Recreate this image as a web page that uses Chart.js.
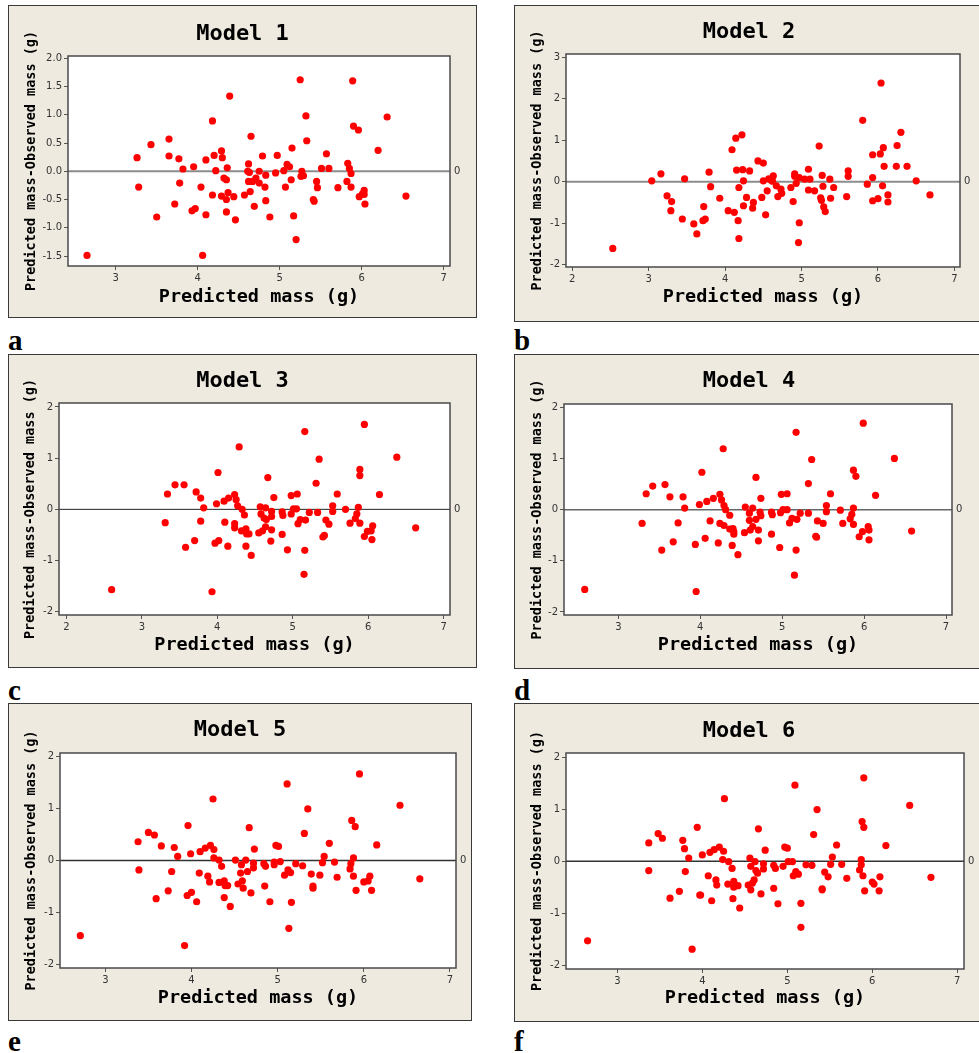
<!DOCTYPE html>
<html>
<head>
<meta charset="utf-8">
<script src="https://cdn.jsdelivr.net/npm/chart.js@4/dist/chart.umd.min.js"></script>
<style>
  html, body { margin: 0; padding: 0; background: #ffffff; }
  body { width: 979px; height: 1053px; position: relative; overflow: hidden; }
  .panel { position: absolute; box-sizing: border-box; border: 1px solid #3a3a3a; background: #eeeae0; }
  .panel canvas { display: block; }
  .tag { position: absolute; font-family: "Liberation Serif", "Times New Roman", serif; font-weight: bold; font-size: 29px; line-height: 1; color: #000; }
</style>
</head>
<body>
<script>
// Residuals (predicted − observed) against predicted mass, one pair of arrays per model.
const MODEL1_X = [2.65,3.26,3.28,3.43,3.50,3.65,3.65,3.72,3.77,3.78,3.82,3.93,3.95,3.97,4.04,4.06,4.10,4.10,4.18,4.18,4.20,4.22,4.29,4.30,4.29,4.32,4.35,4.35,4.35,4.36,4.37,4.39,4.44,4.46,4.57,4.62,4.61,4.63,4.62,4.64,4.65,4.67,4.69,4.71,4.75,4.75,4.79,4.82,4.83,4.83,4.88,4.95,4.97,5.05,5.07,5.09,5.12,5.14,5.15,5.17,5.20,5.25,5.26,5.27,5.29,5.32,5.33,5.41,5.42,5.45,5.46,5.51,5.57,5.60,5.71,5.82,5.83,5.85,5.87,5.87,5.89,5.90,5.96,5.97,6.01,6.03,6.03,6.04,6.20,6.31,6.54];
const MODEL1_Y = [-1.49,0.24,-0.28,0.47,-0.81,0.57,0.27,-0.58,0.22,-0.21,0.04,-0.70,0.08,-0.66,-0.28,-1.49,-0.77,0.20,-0.42,0.89,0.28,0.01,0.36,0.24,-0.44,-0.12,-0.15,-0.50,-0.72,0.06,-0.38,1.33,-0.45,-0.86,-0.42,0.13,0.00,-0.02,-0.18,-0.36,0.62,-0.18,-0.62,-0.12,-0.21,0.00,0.27,-0.28,-0.07,-0.52,-0.81,-0.03,0.28,0.01,-0.28,0.12,0.08,-0.15,0.41,-0.79,-1.21,1.62,-0.09,0.00,-0.08,0.98,0.54,-0.50,-0.53,-0.18,-0.29,0.05,0.31,0.05,-0.29,-0.18,0.14,0.05,-0.04,-0.28,1.60,0.80,0.73,-0.45,-0.40,-0.34,-0.41,-0.58,0.37,0.96,-0.44];

const MODEL2_X = [2.53,3.04,3.16,3.24,3.30,3.29,3.44,3.47,3.59,3.63,3.72,3.71,3.74,3.79,3.81,3.93,4.04,4.09,4.12,4.14,4.15,4.18,4.17,4.18,4.22,4.23,4.24,4.24,4.28,4.32,4.36,4.37,4.43,4.48,4.50,4.50,4.53,4.55,4.57,4.60,4.62,4.63,4.67,4.69,4.73,4.74,4.86,4.89,4.91,4.91,4.93,4.97,4.96,4.97,5.04,5.09,5.09,5.11,5.17,5.23,5.25,5.26,5.27,5.28,5.29,5.31,5.37,5.38,5.42,5.59,5.61,5.61,5.80,5.86,5.93,5.93,5.93,6.00,6.03,6.04,6.06,6.07,6.08,6.13,6.13,6.24,6.25,6.30,6.38,6.50,6.68];
const MODEL2_Y = [-1.61,0.02,0.19,-0.34,-0.48,-0.70,-0.90,0.07,-1.02,-1.26,-0.60,-0.94,-0.90,0.23,-0.12,-0.40,-0.70,0.77,-0.74,1.05,0.28,-0.14,-0.94,-1.37,1.13,0.29,0.02,-0.58,-0.38,0.26,-0.64,-0.50,0.50,-0.38,0.45,0.02,-0.80,-0.22,0.07,0.04,0.01,0.14,-0.10,-0.36,-0.18,-0.28,-0.14,-0.48,0.19,0.13,-0.04,0.10,-1.47,-0.99,0.06,0.30,-0.20,0.06,-0.22,0.86,-0.39,-0.45,0.15,-0.11,-0.61,-0.72,0.06,-0.40,-0.14,-0.36,0.26,0.13,1.48,-0.06,0.65,0.10,-0.46,-0.41,0.67,2.38,-0.10,0.82,0.37,-0.32,-0.49,0.37,0.87,1.19,0.37,0.02,-0.32];

const MODEL3_X = [2.60,3.31,3.34,3.44,3.56,3.58,3.70,3.72,3.78,3.78,3.82,3.93,3.97,3.99,4.01,4.02,4.09,4.10,4.14,4.15,4.23,4.23,4.23,4.25,4.27,4.29,4.32,4.33,4.36,4.38,4.38,4.39,4.42,4.45,4.55,4.57,4.58,4.60,4.62,4.64,4.64,4.65,4.67,4.71,4.72,4.72,4.72,4.75,4.86,4.86,4.87,4.93,4.98,4.98,5.01,5.05,5.06,5.07,5.10,5.15,5.16,5.16,5.17,5.22,5.31,5.33,5.35,5.40,5.42,5.44,5.48,5.53,5.53,5.59,5.70,5.76,5.83,5.85,5.87,5.89,5.89,5.89,5.95,5.95,5.99,6.04,6.06,6.05,6.15,6.38,6.63];
const MODEL3_Y = [-1.57,-0.26,0.30,0.48,0.48,-0.74,-0.61,0.34,0.22,-0.23,0.03,-1.61,-0.66,0.11,0.72,-0.61,0.16,-0.25,-0.72,0.22,0.29,-0.28,-0.36,0.19,0.07,1.22,-0.42,0.00,-0.11,-0.38,-0.72,-0.48,-0.48,-0.90,-0.46,0.05,-0.09,-0.42,-0.17,0.03,-0.34,-0.20,0.62,-0.62,-0.40,-0.04,-0.14,0.23,-0.49,-0.05,-0.12,-0.79,0.27,-0.09,0.01,0.01,0.30,-0.28,-0.20,-1.27,1.52,-0.80,-0.21,-0.06,0.51,-0.06,0.98,-0.54,-0.51,-0.21,-0.29,0.07,-0.04,0.30,0.00,-0.27,-0.18,-0.09,0.04,0.78,-0.27,0.66,1.66,-0.53,-0.43,-0.42,-0.32,-0.59,0.29,1.02,-0.36];

const MODEL4_X = [2.59,3.29,3.34,3.42,3.53,3.57,3.63,3.67,3.73,3.79,3.81,3.94,3.95,3.99,4.02,4.06,4.08,4.12,4.16,4.22,4.24,4.24,4.26,4.28,4.29,4.29,4.31,4.36,4.36,4.39,4.40,4.41,4.41,4.46,4.54,4.55,4.60,4.60,4.61,4.64,4.64,4.68,4.68,4.71,4.71,4.73,4.74,4.74,4.87,4.87,4.88,4.97,4.98,4.99,5.01,5.06,5.06,5.09,5.12,5.15,5.17,5.17,5.18,5.22,5.32,5.32,5.36,5.41,5.42,5.43,5.50,5.54,5.54,5.59,5.71,5.74,5.83,5.85,5.87,5.87,5.87,5.90,5.94,5.98,5.99,6.05,6.06,6.06,6.14,6.37,6.58];
const MODEL4_Y = [-1.56,-0.27,0.31,0.46,-0.79,0.49,0.25,-0.63,-0.26,0.25,0.03,-0.68,-1.60,0.10,0.73,-0.56,0.16,-0.22,0.22,-0.65,-0.27,0.30,0.19,1.19,-0.31,0.08,0.00,-0.11,-0.38,-0.70,-0.37,-0.48,-0.43,-0.88,-0.45,0.05,-0.07,-0.21,-0.40,0.03,-0.33,0.63,-0.19,-0.61,-0.40,-0.05,-0.12,0.22,-0.05,-0.48,-0.10,-0.74,-0.06,0.30,0.00,0.00,0.31,-0.26,-0.17,-1.28,1.51,-0.79,-0.19,-0.07,0.51,-0.07,0.98,-0.52,-0.54,-0.22,-0.27,0.08,-0.04,0.31,-0.01,-0.27,-0.18,-0.09,0.03,0.77,-0.29,0.65,-0.53,-0.43,1.69,-0.33,-0.40,-0.59,0.28,1.00,-0.42];

const MODEL5_X = [2.71,3.38,3.39,3.50,3.57,3.59,3.65,3.73,3.77,3.80,3.84,3.92,3.95,3.96,3.99,4.00,4.06,4.09,4.10,4.16,4.19,4.21,4.22,4.25,4.26,4.26,4.32,4.32,4.35,4.38,4.38,4.39,4.42,4.45,4.51,4.54,4.57,4.58,4.59,4.60,4.63,4.65,4.67,4.69,4.72,4.72,4.73,4.84,4.85,4.86,4.91,4.96,4.96,4.98,5.01,5.03,5.08,5.11,5.12,5.13,5.15,5.16,5.21,5.29,5.31,5.35,5.39,5.41,5.41,5.49,5.52,5.54,5.60,5.66,5.69,5.84,5.85,5.86,5.88,5.88,5.90,5.91,5.95,6.00,6.05,6.07,6.09,6.15,6.42,6.65];
const MODEL5_Y = [-1.44,0.36,-0.18,0.54,0.49,-0.73,0.28,-0.58,-0.21,0.25,0.08,-1.63,-0.67,0.67,0.13,-0.61,-0.79,-0.24,0.17,0.24,-0.30,-0.41,0.29,1.18,0.21,0.05,0.01,-0.42,-0.11,-0.71,-0.39,-0.48,-0.48,-0.88,0.01,-0.45,-0.24,-0.08,-0.39,-0.53,0.01,-0.21,0.63,-0.62,-0.05,-0.14,0.22,-0.06,-0.49,-0.11,-0.79,-0.03,-0.08,0.29,0.27,-0.02,-0.28,1.47,-0.18,-1.30,-0.23,-0.80,-0.06,-0.10,0.52,0.99,-0.26,-0.49,-0.53,-0.28,-0.04,0.08,0.33,-0.03,-0.32,-0.16,-0.06,0.77,0.05,-0.30,0.65,-0.57,1.66,-0.41,-0.39,-0.30,-0.57,0.30,1.06,-0.35];

const MODEL6_X = [2.65,3.37,3.37,3.48,3.53,3.62,3.73,3.77,3.79,3.80,3.84,3.88,3.94,3.97,3.98,4.00,4.07,4.09,4.11,4.14,4.16,4.17,4.20,4.24,4.25,4.26,4.30,4.31,4.35,4.36,4.37,4.37,4.42,4.44,4.54,4.56,4.57,4.57,4.59,4.61,4.62,4.63,4.65,4.66,4.69,4.72,4.72,4.74,4.84,4.84,4.86,4.89,4.95,4.97,5.00,5.01,5.06,5.07,5.09,5.10,5.13,5.16,5.16,5.22,5.29,5.31,5.35,5.41,5.41,5.44,5.48,5.51,5.53,5.58,5.64,5.70,5.85,5.87,5.87,5.88,5.89,5.90,5.90,5.91,6.00,6.02,6.08,6.09,6.16,6.44,6.69];
const MODEL6_Y = [-1.53,0.35,-0.18,0.53,0.44,-0.71,-0.58,0.40,0.24,-0.20,0.06,-1.69,0.65,-0.65,-0.65,0.12,-0.28,0.17,-0.76,0.22,-0.36,-0.46,0.27,0.03,0.19,1.20,-0.44,-0.01,-0.14,-0.72,-0.39,-0.50,-0.47,-0.90,-0.46,0.06,-0.10,-0.55,-0.42,-0.36,-0.01,-0.18,-0.23,0.62,-0.63,-0.05,-0.15,0.21,-0.52,-0.08,-0.14,-0.82,-0.10,0.27,0.25,-0.01,-0.01,-0.28,1.46,-0.20,-0.25,-1.27,-0.81,-0.07,-0.08,0.51,0.99,-0.53,-0.55,-0.21,-0.30,-0.06,0.08,0.31,-0.06,-0.33,-0.17,0.03,-0.07,0.76,-0.28,1.60,0.65,-0.57,-0.40,-0.44,-0.57,-0.30,0.30,1.07,-0.31];

// Axis ticks and their printed labels.
const X_TICKS_3_7 = [3, 4, 5, 6, 7];
const X_TICKS_2_7 = [2, 3, 4, 5, 6, 7];
const Y_TICKS_HALF = [-1.5, -1, -0.5, 0, 0.5, 1, 1.5, 2];
const Y_LABELS_HALF = ["-1.5", "-1.0", "-0.5", "0.0", "0.5", "1.0", "1.5", "2.0"];
const Y_TICKS_M2_3 = [-2, -1, 0, 1, 2, 3];
const Y_TICKS_M2_2 = [-2, -1, 0, 1, 2];

const MODEL_TITLES = ["Model 1", "Model 2", "Model 3", "Model 4", "Model 5", "Model 6"];
const PANEL_TAGS = ["a", "b", "c", "d", "e", "f"];
const X_TITLE = "Predicted mass (g)";
const Y_TITLE = "Predicted mass-Observed mass (g)";

// Page geometry of each panel: outer frame, plot rectangle, axis windows, text anchors.
const PANELS = [
  { xs: MODEL1_X, ys: MODEL1_Y, xt: X_TICKS_3_7, yt: Y_TICKS_HALF, yl: Y_LABELS_HALF,
    box: {x: 8, y: 5, w: 469, h: 313}, plot: {l: 68, t: 56, r: 450, b: 266},
    xr: [2.418, 7.077], yr: [-1.677, 2.04], titleY: 35, xTitleY: 297, yTitleX: 31,
    zero: {color: '#8c8c8c', width: 2}, tag: {x: 8, y: 326} },
  { xs: MODEL2_X, ys: MODEL2_Y, xt: X_TICKS_2_7, yt: Y_TICKS_M2_3, yl: null,
    box: {x: 514, y: 5, w: 470, h: 317}, plot: {l: 566, t: 54, r: 960, b: 267},
    xr: [1.918, 7.073], yr: [-2.058, 3.08], titleY: 33, xTitleY: 297, yTitleX: 537,
    zero: {color: '#8c8c8c', width: 2}, tag: {x: 514, y: 326} },
  { xs: MODEL3_X, ys: MODEL3_Y, xt: X_TICKS_2_7, yt: Y_TICKS_M2_2, yl: null,
    box: {x: 8, y: 354, w: 469, h: 314}, plot: {l: 59, t: 403, r: 450, b: 615},
    xr: [1.902, 7.085], yr: [-2.064, 2.078], titleY: 382, xTitleY: 645, yTitleX: 30,
    zero: {color: '#222222', width: 1}, tag: {x: 8, y: 676} },
  { xs: MODEL4_X, ys: MODEL4_Y, xt: X_TICKS_3_7, yt: Y_TICKS_M2_2, yl: null,
    box: {x: 514, y: 354, w: 470, h: 315}, plot: {l: 564, t: 404, r: 952, b: 615},
    xr: [2.337, 7.073], yr: [-2.059, 2.064], titleY: 382, xTitleY: 645, yTitleX: 537,
    zero: {color: '#666666', width: 1.5}, tag: {x: 514, y: 676} },
  { xs: MODEL5_X, ys: MODEL5_Y, xt: X_TICKS_3_7, yt: Y_TICKS_M2_2, yl: null,
    box: {x: 8, y: 703, w: 464, h: 318}, plot: {l: 60, t: 753, r: 456, b: 968},
    xr: [2.474, 7.07], yr: [-2.06, 2.062], titleY: 731, xTitleY: 998, yTitleX: 31,
    zero: {color: '#333333', width: 1.5}, tag: {x: 8, y: 1027} },
  { xs: MODEL6_X, ys: MODEL6_Y, xt: X_TICKS_3_7, yt: Y_TICKS_M2_2, yl: null,
    box: {x: 514, y: 703, w: 470, h: 319}, plot: {l: 566, t: 753, r: 964, b: 969},
    xr: [2.396, 7.079], yr: [-2.071, 2.077], titleY: 732, xTitleY: 998, yTitleX: 537,
    zero: {color: '#333333', width: 1.5}, tag: {x: 514, y: 1027} }
];

const MONO = '"DejaVu Sans Mono", "Liberation Mono", monospace';
const SANS = '"DejaVu Sans", Verdana, sans-serif';
const TICK_COLOR = '#333333';

// White plot area underneath, thin frame on top.
const plotFrame = {
  id: 'plotFrame',
  beforeDraw(chart) {
    const {ctx, chartArea: a} = chart;
    ctx.save();
    ctx.fillStyle = '#ffffff';
    ctx.fillRect(a.left, a.top, a.right - a.left, a.bottom - a.top);
    ctx.restore();
  },
  afterDatasetsDraw(chart) {
    const {ctx, chartArea: a} = chart;
    ctx.save();
    ctx.strokeStyle = '#4a4a4a';
    ctx.lineWidth = 1.5;
    ctx.strokeRect(a.left, a.top, a.right - a.left, a.bottom - a.top);
    ctx.restore();
  }
};

function buildPanel(p, i) {
  const wrap = document.createElement('div');
  wrap.className = 'panel';
  Object.assign(wrap.style, {left: p.box.x + 'px', top: p.box.y + 'px', width: p.box.w + 'px', height: p.box.h + 'px'});
  const W = p.box.w - 2, H = p.box.h - 2;
  const cv = document.createElement('canvas');
  cv.width = W; cv.height = H;
  cv.style.width = W + 'px'; cv.style.height = H + 'px';
  wrap.appendChild(cv);
  document.body.appendChild(wrap);

  const tag = document.createElement('div');
  tag.className = 'tag';
  tag.textContent = PANEL_TAGS[i];
  tag.style.left = p.tag.x + 'px';
  tag.style.top = p.tag.y + 'px';
  document.body.appendChild(tag);

  const ox = p.box.x + 1, oy = p.box.y + 1;
  const leftW = p.plot.l - ox;
  const rightW = ox + W - p.plot.r;
  const topH = p.plot.t - oy;
  const bottomH = oy + H - p.plot.b;

  const titleSize = 22, xTitleSize = 18.5, yTitleSize = 13.5;
  const titlePadTop = p.titleY - oy - titleSize / 2 - 1;
  const titlePadBottom = topH - titleSize - titlePadTop;
  const xTitlePadBottom = (oy + H) - p.xTitleY - xTitleSize / 2;
  const yTitlePadTop = p.yTitleX - ox - yTitleSize / 2;

  const tickFont = {family: SANS, size: 10};
  const yLabel = (v, idx) => (p.yl ? p.yl[idx] : String(v));

  new Chart(cv, {
    type: 'scatter',
    data: {
      datasets: [
        {
          data: p.xs.map((x, k) => ({x, y: p.ys[k]})),
          backgroundColor: '#ff0000',
          borderWidth: 0,
          pointRadius: 3.6,
          pointHoverRadius: 3.6,
          order: 1
        },
        {
          data: [{x: p.xr[0], y: 0}, {x: p.xr[1], y: 0}],
          showLine: true,
          borderColor: p.zero.color,
          borderWidth: p.zero.width,
          pointRadius: 0,
          pointHoverRadius: 0,
          fill: false,
          order: 2
        }
      ]
    },
    options: {
      responsive: false,
      animation: false,
      devicePixelRatio: 1,
      events: [],
      layout: {padding: 0},
      plugins: {
        legend: {display: false},
        tooltip: {enabled: false},
        title: {
          display: true,
          text: MODEL_TITLES[i],
          color: '#000000',
          font: {family: MONO, size: titleSize, weight: 'bold', lineHeight: 1},
          padding: {top: titlePadTop, bottom: titlePadBottom}
        }
      },
      scales: {
        x: {
          type: 'linear',
          position: 'bottom',
          min: p.xr[0],
          max: p.xr[1],
          afterBuildTicks: s => { s.ticks = p.xt.map(v => ({value: v})); },
          afterFit: s => { s.height = bottomH; },
          ticks: {font: tickFont, color: TICK_COLOR, padding: 2, maxRotation: 0, autoSkip: false, callback: v => String(v)},
          grid: {display: true, drawOnChartArea: false, drawTicks: true, tickLength: 4, color: '#555555', lineWidth: 1},
          border: {display: false},
          title: {
            display: true, text: X_TITLE, color: '#000000',
            font: {family: MONO, size: xTitleSize, weight: 'bold', lineHeight: 1},
            padding: {top: 0, bottom: xTitlePadBottom}
          }
        },
        y: {
          type: 'linear',
          position: 'left',
          min: p.yr[0],
          max: p.yr[1],
          afterBuildTicks: s => { s.ticks = p.yt.map(v => ({value: v})); },
          afterFit: s => { s.width = leftW; },
          ticks: {font: tickFont, color: TICK_COLOR, padding: 2, autoSkip: false, callback: yLabel},
          grid: {display: true, drawOnChartArea: false, drawTicks: true, tickLength: 4, color: '#555555', lineWidth: 1},
          border: {display: false},
          title: {
            display: true, text: Y_TITLE, color: '#000000',
            font: {family: MONO, size: yTitleSize, weight: 'bold', lineHeight: 1},
            padding: {top: yTitlePadTop, bottom: 0}
          }
        },
        yRight: {
          type: 'linear',
          position: 'right',
          min: p.yr[0],
          max: p.yr[1],
          afterBuildTicks: s => { s.ticks = [{value: 0}]; },
          afterFit: s => { s.width = rightW; },
          ticks: {font: tickFont, color: TICK_COLOR, padding: 4, callback: () => '0'},
          grid: {display: false, drawTicks: false},
          border: {display: false}
        }
      }
    },
    plugins: [plotFrame]
  });
}

PANELS.forEach(buildPanel);
</script>
</body>
</html>
